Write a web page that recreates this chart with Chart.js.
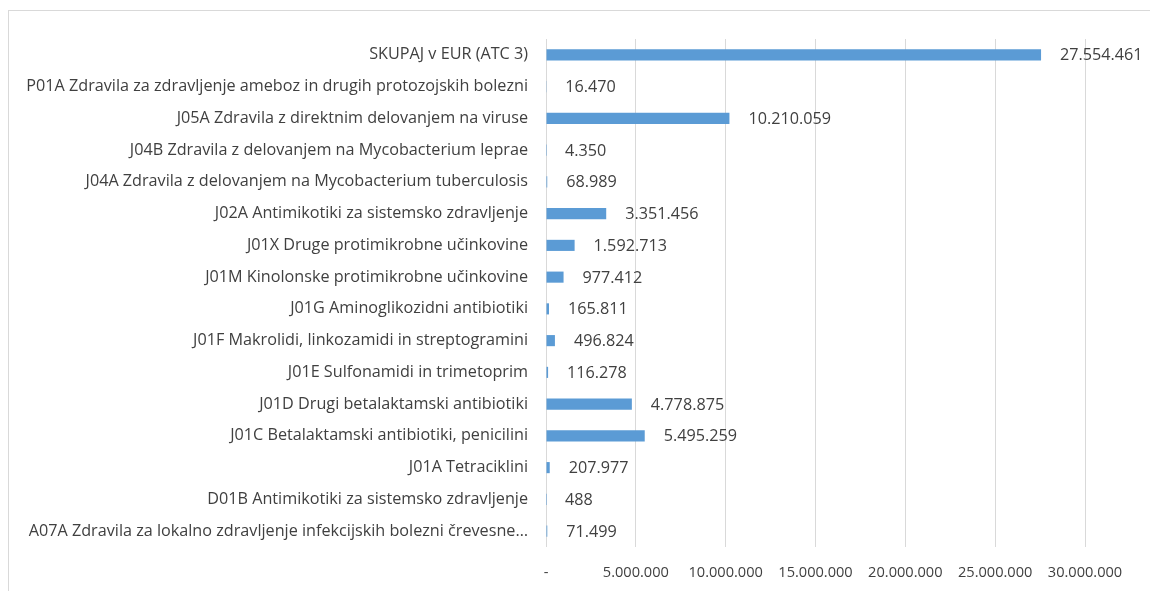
<!DOCTYPE html>
<html>
<head>
<meta charset="utf-8">
<script src="https://cdn.jsdelivr.net/npm/chart.js@4"></script>
<style>
  html, body { margin: 0; padding: 0; background: #fff; }
  #wrap { position: relative; width: 1150px; height: 591px; overflow: hidden; }
  #frame { position: absolute; left: 8px; top: 10px; width: 1300px; height: 700px; border: 1px solid #d9d9d9; }
  #chart { position: absolute; left: 0; top: 0; }
</style>
</head>
<body>
<div id="wrap">
  <div id="frame"></div>
  <canvas id="chart" width="1150" height="591"></canvas>
</div>
<script>
// categories top to bottom
const categories = [
    'SKUPAJ v EUR (ATC 3)',
    'P01A Zdravila za zdravljenje ameboz in drugih protozojskih bolezni',
    'J05A Zdravila z direktnim delovanjem na viruse',
    'J04B Zdravila z delovanjem na Mycobacterium leprae',
    'J04A Zdravila z delovanjem na Mycobacterium tuberculosis',
    'J02A Antimikotiki za sistemsko zdravljenje',
    'J01X Druge protimikrobne učinkovine',
    'J01M Kinolonske protimikrobne učinkovine',
    'J01G Aminoglikozidni antibiotiki',
    'J01F Makrolidi, linkozamidi in streptogramini',
    'J01E Sulfonamidi in trimetoprim',
    'J01D Drugi betalaktamski antibiotiki',
    'J01C Betalaktamski antibiotiki, penicilini',
    'J01A Tetraciklini',
    'D01B Antimikotiki za sistemsko zdravljenje',
    'A07A Zdravila za lokalno zdravljenje infekcijskih bolezni črevesne…'
];
const values = [27554461, 16470, 10210059, 4350, 68989, 3351456, 1592713, 977412,
                165811, 496824, 116278, 4778875, 5495259, 207977, 488, 71499];
const axisMax = 30000000;
const axisStep = 5000000;

const textColor = '#404040';
const catFont = { family: 'Open Sans', size: 16.2 };
const tickFont = { family: 'Open Sans', size: 14.6 };
const labelFont = { family: 'Open Sans', size: 16.2 };

function fmt(n) {
    if (n === 0) return '-';
    return String(n).replace(/\B(?=(\d{3})+(?!\d))/g, '.');
}

const valueLabels = {
    id: 'valueLabels',
    afterDatasetsDraw(chart) {
        const ctx = chart.ctx;
        const meta = chart.getDatasetMeta(0);
        ctx.save();
        ctx.font = labelFont.size + 'px "' + labelFont.family + '"';
        ctx.fillStyle = textColor;
        ctx.textAlign = 'left';
        ctx.textBaseline = 'middle';
        meta.data.forEach((bar, i) => {
            ctx.fillText(fmt(values[i]), bar.x + 19, bar.y + 1);
        });
        ctx.restore();
    }
};

const ctx = document.getElementById('chart').getContext('2d');
new Chart(ctx, {
    type: 'bar',
    data: {
        labels: categories,
        datasets: [{
            data: values,
            backgroundColor: '#5B9BD5',
            borderWidth: 0,
            barPercentage: 0.7,
            categoryPercentage: 0.5
        }]
    },
    options: {
        indexAxis: 'y',
        responsive: false,
        animation: false,
        layout: { padding: { left: 0, right: 65, top: 39, bottom: 0 } },
        plugins: {
            legend: { display: false },
            tooltip: { enabled: false }
        },
        scales: {
            x: {
                min: 0,
                max: axisMax,
                border: { display: false },
                grid: { color: '#d9d9d9', lineWidth: 1, drawTicks: false },
                ticks: {
                    stepSize: axisStep,
                    padding: 17,
                    color: textColor,
                    font: tickFont,
                    callback: v => fmt(v)
                },
                afterFit: s => { s.height = 44; }
            },
            y: {
                border: { display: false },
                grid: { display: false, drawTicks: false },
                ticks: { padding: 18, color: textColor, font: catFont, autoSkip: false },
                afterFit: s => { s.width = 546; }
            }
        }
    },
    plugins: [valueLabels]
});
</script>
</body>
</html>
